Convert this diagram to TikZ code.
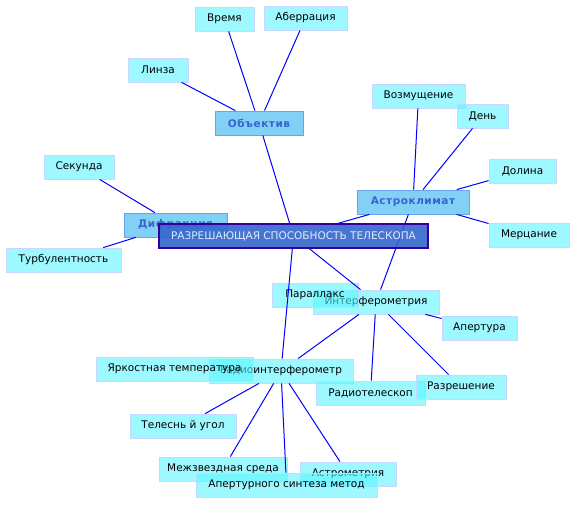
\documentclass[tikz,border=0pt]{standalone}
\usepackage{fontspec}
\setmainfont{DejaVu Sans}
\newfontfamily\catfont[LetterSpace=5]{DejaVu Sans Bold}
\definecolor{leaffill}{RGB}{92,245,255}
\definecolor{leafdraw}{RGB}{200,215,255}
\definecolor{catfill}{RGB}{110,200,245}
\definecolor{catdraw}{RGB}{100,165,235}
\definecolor{cattext}{RGB}{55,100,205}
\definecolor{mainfill}{RGB}{51,102,204}
\definecolor{maindraw}{RGB}{51,0,153}
\definecolor{maintext}{RGB}{225,235,255}
\definecolor{edgecol}{RGB}{0,0,255}
\pgfdeclarelayer{back}
\pgfdeclarelayer{front}
\pgfsetlayers{back,main,front}
\tikzset{
  leaf/.style={rectangle, fill=leaffill, fill opacity=0.6, text opacity=1, draw=leafdraw, line width=0.8pt,
    minimum height=24pt, inner sep=0pt, font=\fontsize{10.5}{12}\selectfont, text=black},
  cat/.style={rectangle, fill=catfill, fill opacity=0.85, text opacity=1, draw=catdraw, line width=0.8pt,
    minimum height=24pt, inner sep=0pt, font=\catfont\fontsize{10.5}{12}\selectfont, text=cattext},
  mainbox/.style={rectangle, fill=mainfill, fill opacity=0.9, text opacity=1, draw=maindraw, line width=1.3pt,
    minimum height=24pt, inner sep=0pt, font=\fontsize{10.5}{12}\selectfont, text=maintext},
  edge/.style={draw=edgecol, line width=1pt}
}
\begin{document}
\begin{tikzpicture}[x=1pt,y=-1pt]
\useasboundingbox (0,0) rectangle (576,504);
\begin{pgfonlayer}{back}
\fill[white] (0,0) rectangle (576,504);
\node[leaf, minimum width=59pt] (vremya) at (224.5,19) {Время};
\node[leaf, minimum width=83pt] (aber) at (305.5,18) {Аберрация};
\node[leaf, minimum width=60pt] (linza) at (158,70) {Линза};
\node[cat, minimum width=88pt] (obj) at (259,123) {Объектив};
\node[leaf, minimum width=93pt] (vozm) at (418.5,96) {Возмущение};
\node[leaf, minimum width=51pt] (den) at (482.5,116) {День};
\node[leaf, minimum width=67pt] (dolina) at (522.5,171) {Долина};
\node[cat, minimum width=112pt] (astro) at (413,202) {Астроклимат};
\node[leaf, minimum width=80pt] (merc) at (529,235) {Мерцание};
\node[leaf, minimum width=70pt] (sek) at (79,167) {Секунда};
\node[cat, minimum width=103pt] (difr) at (175.5,225) {Дифракция};
\node[leaf, minimum width=115pt] (turb) at (63.5,260) {Турбулентность};
\node[leaf, minimum width=126pt] (interf) at (376,302) {Интерферометрия};
\node[leaf, minimum width=86pt] (parall) at (315,295) {Параллакс};
\node[leaf, minimum width=75pt] (apert) at (479.5,328) {Апертура};
\node[leaf, minimum width=144pt] (radioi) at (281,371) {Радиоинтерферометр};
\node[leaf, minimum width=157pt] (yark) at (174.5,369) {Яркостная температура};
\node[leaf, minimum width=109pt] (radiot) at (370.5,393) {Радиотелескоп};
\node[leaf, minimum width=90pt] (razr) at (461,387) {Разрешение};
\node[leaf, minimum width=106pt] (teles) at (183,426) {Телеснь й угол};
\node[leaf, minimum width=128pt] (mezh) at (223,469) {Межзвездная среда};
\node[leaf, minimum width=96pt] (astrom) at (348,474) {Астрометрия};
\node[leaf, minimum width=181pt] (apsint) at (286.5,485) {Апертурного синтеза метод};
\end{pgfonlayer}
\begin{pgfonlayer}{front}
\node[mainbox, minimum width=269pt] (M) at (293.5,236) {РАЗРЕШАЮЩАЯ СПОСОБНОСТЬ ТЕЛЕСКОПА};
\end{pgfonlayer}
\draw[edge] (obj) -- (vremya);
\draw[edge] (obj) -- (aber);
\draw[edge] (obj) -- (linza);
\draw[edge] (obj) -- (M);
\draw[edge] (astro) -- (vozm);
\draw[edge] (astro) -- (den);
\draw[edge] (astro) -- (dolina);
\draw[edge] (astro) -- (merc);
\draw[edge] (astro) -- (M);
\draw[edge] (astro) -- (interf);
\draw[edge] (difr) -- (sek);
\draw[edge] (difr) -- (turb);
\draw[edge] (M) -- (interf);
\draw[edge] (M) -- (radioi);
\draw[edge] (interf) -- (apert);
\draw[edge] (interf) -- (razr);
\draw[edge] (interf) -- (radiot);
\draw[edge] (interf) -- (radioi);
\draw[edge] (radioi) -- (teles);
\draw[edge] (radioi) -- (mezh);
\draw[edge] (radioi) -- (apsint);
\draw[edge] (radioi) -- (astrom);
\end{tikzpicture}
\end{document}
